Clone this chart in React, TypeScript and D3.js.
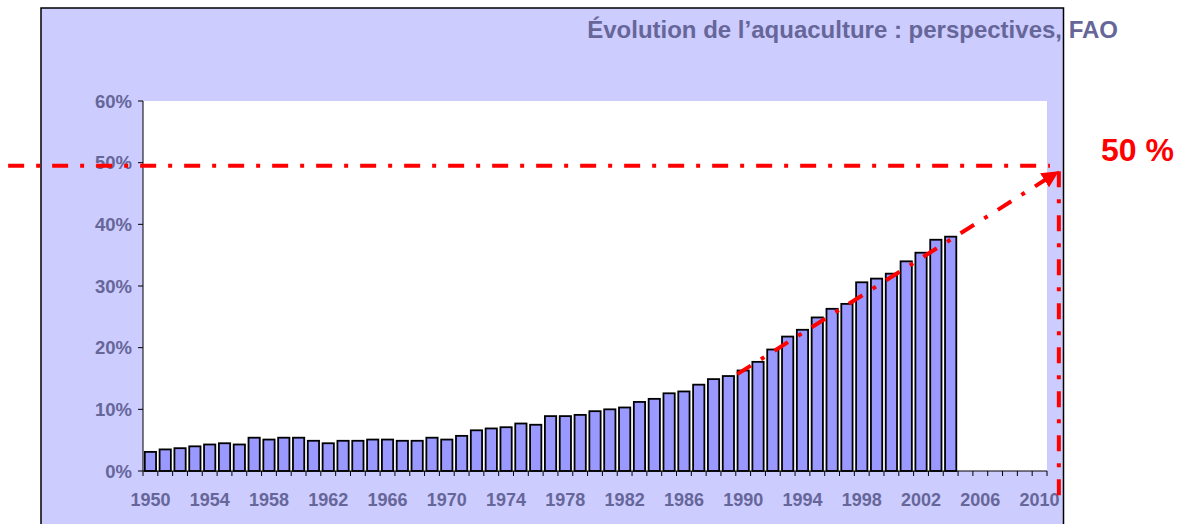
import React from "react";
import * as d3 from "d3";

// ---- data ----
const firstYear = 1950;
const lastYear = 2010;
const barYears = [
  1950, 1951, 1952, 1953, 1954, 1955, 1956, 1957, 1958, 1959,
  1960, 1961, 1962, 1963, 1964, 1965, 1966, 1967, 1968, 1969,
  1970, 1971, 1972, 1973, 1974, 1975, 1976, 1977, 1978, 1979,
  1980, 1981, 1982, 1983, 1984, 1985, 1986, 1987, 1988, 1989,
  1990, 1991, 1992, 1993, 1994, 1995, 1996, 1997, 1998, 1999,
  2000, 2001, 2002, 2003, 2004,
];
const aquaShare = [
  3.1, 3.5, 3.7, 4.0, 4.3, 4.5, 4.3, 5.4, 5.1, 5.4,
  5.4, 4.9, 4.5, 4.9, 4.9, 5.1, 5.1, 4.9, 4.9, 5.4,
  5.1, 5.7, 6.6, 6.9, 7.1, 7.7, 7.5, 8.9, 8.9, 9.1,
  9.7, 10.0, 10.3, 11.2, 11.7, 12.6, 12.9, 14.0, 14.9, 15.4,
  16.3, 17.7, 19.7, 21.8, 22.9, 24.9, 26.3, 27.1, 30.6, 31.2,
  32.0, 34.0, 35.4, 37.5, 38.0,
];
const xTickLabels = [1950, 1954, 1958, 1962, 1966, 1970, 1974, 1978, 1982, 1986, 1990, 1994, 1998, 2002, 2006, 2010];
const yTicks = [0, 10, 20, 30, 40, 50, 60];
const titleText = "Évolution de l’aquaculture : perspectives, FAO";
const targetLabel = "50 %";
// annotation (data coordinates: year, percent)
const trendStart = { year: 1989.6, value: 15.7 };
const trendEnd = { year: 2011.1, value: 48.3 };
const targetLine = { fromYear: 1940.4, toYear: 2010.7, value: 49.5 };
const verticalLine = { year: 2011.3, fromValue: 48.6, toValue: -4.0 };

// ---- layout ----
const W = 1187;
const H = 524;
const plot = { left: 143, right: 1047, top: 101, bottom: 471 };
const panel = { left: 41, right: 1063.5, top: 8 };
const TEXT = "#666699";
const FONT = "'Liberation Sans', Arial, Helvetica, sans-serif";
const RED = "#FF0000";
const DASH = "16,12,4,12";

export default function App() {
  const allYears = d3.range(firstYear, lastYear + 1);
  const xBand = d3.scaleBand<number>().domain(allYears).range([plot.left, plot.right]).padding(0);
  const step = xBand.step();
  const barW = step * 0.76;
  const xCenter = d3
    .scaleLinear()
    .domain([firstYear, lastYear])
    .range([xBand(firstYear)! + step / 2, xBand(lastYear)! + step / 2]);
  const y = d3.scaleLinear().domain([0, 60]).range([plot.bottom, plot.top]);

  const boundaries = d3.range(0, allYears.length + 1).map((i) => plot.left + i * step);

  return (
    <div style={{ position: "absolute", left: 0, top: 0 }}>
      <svg width={W} height={H} style={{ display: "block" }}>
        <defs>
          <marker id="arrowHead" viewBox="0 0 10 10" refX="8" refY="5" markerWidth="4.2" markerHeight="4.2" orient="auto" markerUnits="strokeWidth">
            <path d="M0,0 L10,5 L0,10 z" fill={RED} />
          </marker>
        </defs>
        {/* panel background */}
        <rect x={panel.left} y={panel.top} width={panel.right - panel.left} height={H} fill="#CCCCFF" stroke="#000" strokeWidth={1.5} />
        {/* plot area */}
        <rect x={plot.left} y={plot.top} width={plot.right - plot.left} height={plot.bottom - plot.top} fill="#FFFFFF" />

        {/* bars */}
        {barYears.map((yr, i) => (
          <rect
            key={yr}
            x={xBand(yr)! + (step - barW) / 2}
            y={y(aquaShare[i])}
            width={barW}
            height={y(0) - y(aquaShare[i])}
            fill="#9999FF"
            stroke="#000"
            strokeWidth={1.8}
          />
        ))}

        {/* y axis */}
        <line x1={plot.left} x2={plot.left} y1={plot.top} y2={plot.bottom} stroke="#000" strokeWidth={1} />
        {yTicks.map((t) => (
          <g key={t}>
            <line x1={plot.left - 5} x2={plot.left} y1={y(t)} y2={y(t)} stroke="#000" strokeWidth={1} />
            <text x={plot.left - 11} y={y(t) + 6.5} textAnchor="end" fontFamily={FONT} fontWeight="bold" fontSize={18.5} fill={TEXT}>
              {t + "%"}
            </text>
          </g>
        ))}

        {/* x axis */}
        <line x1={plot.left} x2={plot.right} y1={plot.bottom} y2={plot.bottom} stroke="#000" strokeWidth={1.2} />
        {boundaries.map((bx, i) => (
          <line key={i} x1={bx} x2={bx} y1={plot.bottom} y2={plot.bottom + 5} stroke="#000" strokeWidth={1} />
        ))}
        {xTickLabels.map((yr) => (
          <text key={yr} x={xCenter(yr)} y={506} textAnchor="middle" fontFamily={FONT} fontWeight="bold" fontSize={18} fill={TEXT}>
            {yr}
          </text>
        ))}

        {/* title */}
        <text x={1118} y={38} textAnchor="end" fontFamily={FONT} fontWeight="bold" fontSize={24} fill={TEXT}>
          {titleText}
        </text>

        {/* annotations */}
        <line
          x1={xCenter(targetLine.fromYear)}
          x2={xCenter(targetLine.toYear)}
          y1={y(targetLine.value)}
          y2={y(targetLine.value)}
          stroke={RED}
          strokeWidth={4}
          strokeDasharray={DASH}
        />
        <line
          x1={xCenter(verticalLine.year)}
          x2={xCenter(verticalLine.year)}
          y1={y(verticalLine.fromValue)}
          y2={y(verticalLine.toValue)}
          stroke={RED}
          strokeWidth={4}
          strokeDasharray={DASH}
        />
        <line
          x1={xCenter(trendStart.year)}
          y1={y(trendStart.value)}
          x2={xCenter(trendEnd.year)}
          y2={y(trendEnd.value)}
          stroke={RED}
          strokeWidth={4}
          strokeDasharray={DASH}
          markerEnd="url(#arrowHead)"
        />
        <text x={1101} y={161} fontFamily={FONT} fontWeight="bold" fontSize={32} fill={RED}>
          {targetLabel}
        </text>
      </svg>
    </div>
  );
}
